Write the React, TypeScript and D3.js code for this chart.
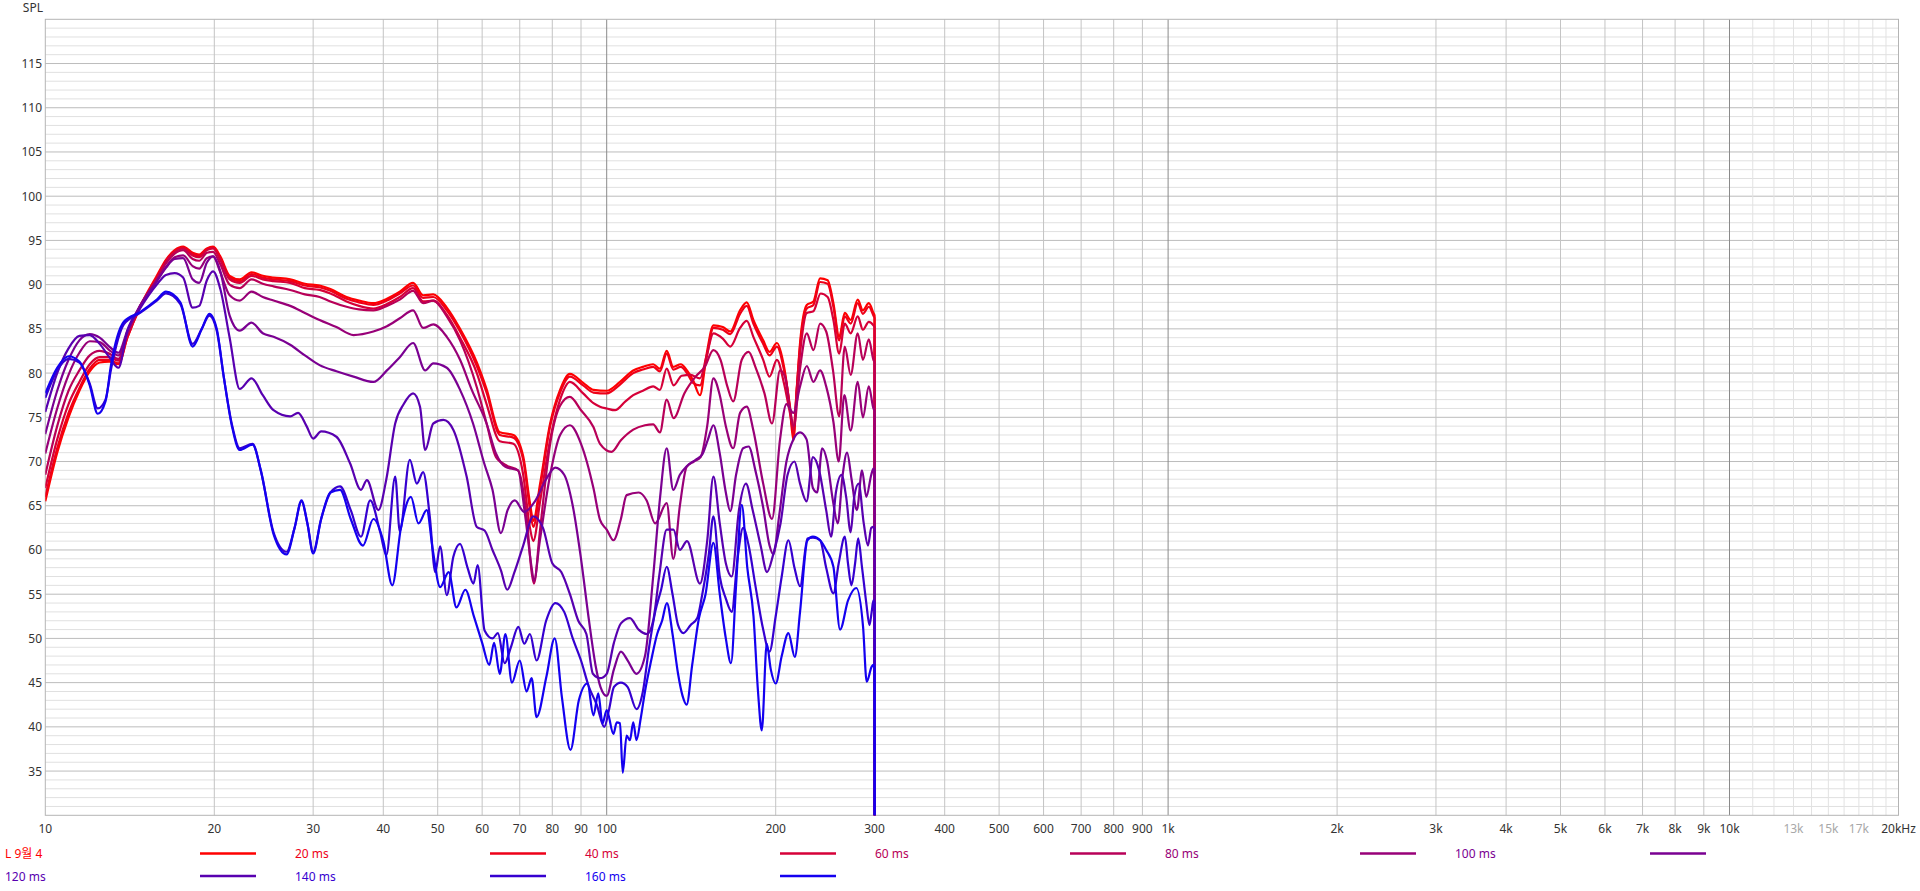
import * as d3 from "d3";

const W = 1920;
const H = 891;
const PL = 45.3;
const PR = 1898.5;
const PT = 19.3;
const PB = 815.3;

// legend names + colours, red (full response) to blue (160 ms slice)
const seriesNames = ["L 9월 4", "20 ms", "40 ms", "60 ms", "80 ms", "100 ms", "120 ms", "140 ms", "160 ms"];
const seriesColors = ["#ff0000", "#ee0018", "#d60038", "#b80058", "#980078", "#7a0092", "#5800b0", "#3600d0", "#1400f0"];

// [Hz, dB SPL]
const lMain = [[10,65.5],[10.5,71],[11,75],[11.5,78],[12,80.2],[12.5,81.2],[13,81.3],[13.5,81],[14,84],[14.75,87.5],[15.8,91],[16.4,92.8],[17,93.9],[17.6,94.3],[18.3,93.6],[18.8,93.4],[19.4,94.1],[19.9,94.3],[20.5,93.2],[21.3,91],[22.2,90.6],[23.3,91.4],[24.4,91],[25.5,90.8],[27.3,90.6],[29,90.1],[30.8,89.9],[32.2,89.5],[34.4,88.6],[36.2,88.2],[38.4,87.9],[40.6,88.4],[42.8,89.2],[45.2,90.2],[47.1,88.8],[49.1,88.9],[51.9,87.4],[54.8,85],[58.7,81.2],[61.1,78.2],[64.5,73.3],[68.2,73],[71,70.6],[73,65.3],[74,63.3],[76.1,67.5],[79.3,74.3],[82.6,78.1],[86,79.9],[90.8,78.9],[94.7,78.1],[100,78],[105.6,79],[111.5,80.3],[116,80.7],[121,81],[124.4,80.5],[127.9,82.5],[131.4,80.7],[135.5,81],[139,80.3],[142.5,79.2],[146.6,77.5],[150.7,82.2],[154.9,85.4],[161,85.2],[166,84.7],[172.8,87.1],[177.6,88],[182.5,86],[190,83.7],[195,82.4],[201,83.4],[207,80.7],[212,76],[215.1,72.4],[218,78],[221,83.4],[227.2,87.7],[233.5,88.1],[239.9,90.7],[247.5,90.5],[253.4,87.9],[259.5,84.1],[265.5,86.8],[272,86],[280,88.3],[286,87.1],[293,87.9],[298.6,86.8],[300,86.5],[300.2,0]];
const ms20 = [[10,66],[10.5,71.5],[11,75.5],[11.5,78.3],[12,80.5],[12.5,81.5],[13,81.5],[13.5,81.1],[14,84],[14.75,87.4],[15.8,90.8],[16.4,92.7],[17,93.8],[17.6,94.2],[18.3,93.5],[18.8,93.3],[19.4,94],[19.9,94.2],[20.5,93],[21.3,90.8],[22.2,90.4],[23.3,91.2],[24.4,90.8],[25.5,90.6],[27.3,90.4],[29,89.9],[30.8,89.7],[32.2,89.3],[34.4,88.4],[36.2,88],[38.4,87.7],[40.6,88.2],[42.8,89],[45.2,89.9],[47.1,88.5],[49.1,88.6],[51.9,87.1],[54.8,84.7],[58.7,80.8],[61.1,77.8],[64.5,73],[68.2,72.7],[71,70.2],[73,64.6],[74,62.6],[76.1,67],[79.3,74],[82.6,77.8],[86,79.6],[90.8,78.6],[94.7,77.8],[100,77.7],[105.6,78.7],[111.5,80],[116,80.4],[121,80.7],[124.4,80.2],[127.9,82.2],[131.4,80.4],[135.5,80.7],[139,80],[142.5,78.9],[146.6,78.6],[150.7,81.8],[154.9,85.1],[161,84.9],[166,84.4],[172.8,86.7],[177.6,87.6],[182.5,85.6],[190,83.3],[195,82],[201,83],[207,80.3],[212,76.3],[215.1,73],[218,78.2],[221,83],[227.2,87.3],[233.5,87.7],[239.9,90.3],[247.5,90.1],[253.4,87.5],[259.5,83.7],[265.5,86.4],[272,85.6],[280,87.9],[286,86.7],[293,87.5],[298.6,86.5],[300,86.2],[300.2,0]];
const ms40 = [[10,67],[10.5,72.5],[11,76.5],[11.5,79],[12,81],[12.5,81.8],[13,81.8],[13.5,81.4],[14,84.2],[14.75,87.5],[15.8,90.7],[16.4,92.6],[17,93.7],[17.6,94.1],[18.3,93.3],[18.8,93.1],[19.4,93.9],[19.9,94.1],[20.5,92.8],[21.3,90.6],[22.2,90.2],[23.3,91],[24.4,90.6],[25.5,90.4],[27.3,90.2],[29,89.6],[30.8,89.4],[32.2,89],[34.4,88.1],[36.2,87.6],[38.4,87.3],[40.6,87.8],[42.8,88.6],[45.2,89.6],[47.1,88.1],[49.1,88.2],[51.9,86.6],[54.8,84],[58.7,80],[61.1,76.5],[64.5,72.3],[68.2,72],[71,68.5],[73,62.5],[74,61],[76.1,65.5],[79.3,72.5],[82.6,77],[86,79],[90.8,77.7],[94.7,76.6],[97.3,76.2],[100,76],[103.5,75.8],[108,76.8],[111.5,77.5],[116,78],[121,78.5],[124.4,78.1],[127.9,80.5],[131.6,78.6],[136,79.7],[141,79.8],[146.6,79.4],[150.7,82],[154.9,84.5],[161,83.9],[166,83],[172.8,85.1],[177.6,85.9],[182.5,84.1],[190,81.5],[195,79.6],[201,81.5],[207,78.8],[212,75.5],[215.1,73.6],[218,78],[221,82.2],[227.2,86.8],[233.5,87],[240.5,89],[247.5,88.6],[253.4,86],[259.5,82.2],[265.5,85.6],[272,84.5],[280,86.4],[286,84.9],[293,85.8],[298.6,85.4],[300,85.2],[300.2,0]];
const ms60 = [[10,68.5],[10.5,74],[11,78],[11.5,80.3],[12,82],[12.5,82.5],[13,82.2],[13.5,81.6],[14,84.4],[14.75,87.6],[15.8,90.6],[16.4,92.4],[17,93.5],[17.6,93.9],[18.3,92.9],[18.8,92.7],[19.4,93.6],[19.9,93.7],[20.5,92.3],[21.3,90],[22.2,89.6],[23.3,90.6],[24.4,90.1],[25.5,89.8],[27.3,89.4],[29,88.9],[30.8,88.6],[32.2,88.1],[34.4,87.5],[36.2,87.2],[38.4,87.1],[40.6,87.6],[42.8,88.3],[45.2,89.3],[47.1,87.9],[49.1,88.2],[51.9,86.4],[54.8,83.7],[58.7,78.4],[61.1,74.3],[63.5,70.5],[66.5,69.5],[69.5,69],[72,63.8],[73.5,57.5],[74.2,56.2],[76,62],[79.3,72],[82.6,76.3],[86,77.3],[90,75.8],[94.7,73.9],[97.3,72],[102,71.1],[106,72.4],[111.5,73.6],[117,74.1],[121,74.2],[124.4,73.3],[127.9,77],[131.6,74.9],[137.5,77.7],[144,79.6],[149.5,80.7],[154.9,82.6],[159.5,81.5],[164,78.5],[168,76.8],[174,81.5],[179,82.4],[184,80.7],[191,77.7],[197,74.3],[203.6,80.3],[208,79.5],[212,76],[215.5,74],[221,80.5],[227.2,84.5],[233.5,82.6],[239.9,85.6],[246,84.7],[253,80.3],[259.5,75.1],[265.5,83],[272,79.8],[280,84.5],[286,81.5],[293,83.8],[298.6,81.5],[300,81.2],[300.2,0]];
const ms80 = [[10,70.9],[10.5,76],[11,79.8],[11.5,82.3],[12,83.6],[12.5,83.5],[13,82.6],[13.5,82],[14,84.6],[14.75,87.6],[15.8,90.4],[16.4,92],[17,93.1],[17.6,93.3],[18.3,92.1],[18.8,91.8],[19.4,93],[19.9,93.2],[20.5,91.4],[21.3,88.8],[22.2,88.2],[23.3,89.2],[24.4,88.6],[25.5,88.2],[27.3,87.6],[29,86.8],[30.8,86],[33,85.2],[35.4,84.3],[38.4,84.7],[40.6,85.3],[42.8,86.2],[45.2,87.1],[47.1,85.1],[49.1,85.5],[51.9,84.1],[54.8,81.5],[57.5,78.1],[61.1,74.3],[63.5,70.9],[66,69.4],[69.5,69],[71.5,64.1],[73.5,58],[74.2,56.5],[76,61],[79.3,68.5],[82.6,73],[86,74.1],[90,72],[94.7,67],[97.3,63.4],[100,62.3],[102.8,61.1],[106,63.5],[108.5,66.2],[114,66.5],[117.8,65.6],[122,63],[127.9,65.3],[131.4,59],[135,65],[138.8,69.4],[143,70],[147,70.5],[151,74],[154.9,79.4],[159,77.5],[163,74],[168,71.5],[172.8,75.5],[177.6,76.2],[182.5,73.5],[190,67.5],[197,63.5],[203.6,72.5],[209,76.5],[215,75.5],[221,78.5],[227.2,80.8],[233.5,79],[239.9,80.3],[246,78.5],[253.4,74.5],[259,70],[265,77.5],[272,73.5],[280,79],[286,75],[293,78.5],[298.6,76],[300,75.7],[300.2,0]];
const ms100 = [[10,73.1],[10.5,78],[11,81.5],[11.5,83.7],[12,84.4],[12.5,84],[13,83],[13.5,82.3],[14,84.8],[14.75,87.6],[15.8,90.4],[16.4,91.9],[17,92.9],[17.6,93],[18.3,90.6],[18.8,90.2],[19.4,92.5],[19.9,93.2],[20.5,91.5],[21.3,86.5],[22.2,84.8],[23.3,85.7],[24.4,84.5],[25.5,84.1],[27.3,83.2],[29,82],[30.8,80.9],[33,80.2],[35.4,79.6],[38.4,79],[40.6,80.3],[42.8,81.8],[45.2,83.4],[47.5,80.3],[49.1,81.1],[51.9,80.6],[54.8,78.1],[57.8,74.3],[60.5,69.8],[62.6,66.8],[64.8,61.9],[66.6,64.5],[68.6,65.6],[71.3,64.3],[74.5,65.5],[78,68],[81,69.3],[84,68.5],[87,65],[90,59],[93,52],[95.5,47],[97.5,44.5],[100,43.5],[103,46.5],[106,48.5],[109,47.5],[113,46],[117,48],[121,57],[124.5,66],[127.9,71.5],[131.4,66.8],[135,68.5],[139,69.5],[144,70.2],[148,70.8],[151.5,72.5],[154.9,74.1],[159,70.9],[163,66.5],[166,64.4],[170,68.5],[175,71.5],[179,71.7],[184,69],[190,64.8],[195,60.5],[198,59.5],[203,64],[209,70],[215,72.5],[221,73.3],[227,72.5],[233,67],[237,66.5],[242,71.5],[247,70],[253,65.5],[258,63],[263,68.3],[268,71],[273,68],[279,64.5],[285,69],[290,66],[296,68.5],[298.6,69.2],[300,69],[300.2,0]];
const ms120 = [[10,75.6],[10.5,80],[11,82.8],[11.5,84.2],[12,84.3],[12.5,83.3],[13,81.8],[13.5,80.6],[14,84.8],[14.75,87.3],[15.8,90],[16.4,91.1],[17,91.3],[17.6,90.8],[18.3,87.4],[18.8,87.6],[19.4,90.5],[19.9,91.5],[20.5,89.5],[21.3,84],[22.2,78.2],[23.3,79.4],[24.4,77.5],[25.5,75.8],[27.3,75.1],[28.2,75.5],[29.2,74],[30,72.6],[31,73.4],[33,72.8],[34.9,69.8],[36.5,66.8],[37.4,67.9],[39.2,64.5],[40.5,68],[42,74.3],[43.5,76.5],[45.2,77.7],[46.5,76.2],[47.5,71.3],[49.1,74.3],[51.2,74.7],[53.3,73.6],[56.3,68.3],[58.7,62.6],[60.6,62.2],[62.6,60],[64.8,57.7],[66.5,55.5],[68.5,57.5],[71,60.5],[74,63.8],[77,62.5],[80,58.5],[83,57.5],[86,55],[89,52],[92,50.5],[94.5,46],[97.3,45.5],[100,46],[103,49.5],[106,51.7],[110,52.3],[114,51],[118,50.5],[121,52],[124,57],[127.9,62.3],[131.5,62.3],[135,60],[139,61],[146.6,56.2],[151,61],[154.9,68.3],[159,63],[163,58.5],[167,57],[172,64.5],[177,67.5],[182,64.5],[188,60.5],[193,57.5],[198,59.5],[204,63],[210,68.5],[216,70],[221,67.5],[227,65.5],[233,70.5],[239,69],[246,64.5],[251,61.5],[256,66.5],[262,68.5],[267,66],[272,62],[276,66],[281,67.5],[287,63],[292,60.5],[296,62.5],[298.6,62.6],[300,62.4],[300.2,0]];
const ms140 = [[10,77.2],[10.5,80.3],[11,81.6],[11.5,81.2],[12,78.8],[12.4,76],[12.8,77],[13.1,80.5],[13.8,85.5],[14.75,86.8],[15.8,88.2],[16.4,89],[17.4,87.8],[18.3,83.3],[19,85],[19.6,86.5],[20.2,84.8],[20.8,79.5],[21.5,74.2],[22.2,71.5],[23.4,72],[24.2,69],[25.5,62],[26.9,59.8],[27.8,62.5],[28.6,65.5],[29.3,63],[30,59.8],[31,63.5],[32.2,66.5],[33.5,67.2],[35,64.5],[36.5,61.5],[37.9,65.6],[39.5,62],[40.5,59.4],[42,68.3],[42.8,62.1],[44.6,70.2],[45.9,67.5],[47.1,68.8],[48.4,63.8],[49.5,57.5],[50.5,60.4],[51.9,54.9],[53.3,59.2],[54.8,60.7],[56.5,58],[57.9,56.2],[58.9,58.3],[60.6,50.9],[62.6,50],[64,50.6],[65.8,47.2],[67.5,49],[69.6,51.3],[71.3,49.4],[73,50.5],[75,47.5],[78,52],[81,54],[84,53],[87,50],[90,47.5],[93,44.5],[96,42.5],[99,40],[101,42],[103,44.5],[106,45],[109,44.5],[113,42],[116,44],[119,49],[122,53],[125,55.5],[127.9,58.1],[131,55],[134,51.5],[137,50.6],[141,51.5],[145,52.3],[148,55],[152,59.5],[154.9,63.8],[159,57],[163,54.5],[167,53],[171,59],[175,62.5],[179,60.5],[184,56],[190,51],[195,48.5],[200,52.5],[205,57],[210.7,61.1],[216,58],[221,55.9],[227.8,61.3],[233,61.4],[239.9,61.1],[246,58],[253.4,55.1],[259,58.5],[265.6,61.5],[269,58.5],[272.9,56],[277,58.5],[280.5,61.3],[285,58],[290,54],[293.8,51.5],[296.5,53],[298.6,54.3],[300,54],[300.2,0]];
const ms160 = [[10,77.7],[10.5,80.6],[11,81.9],[11.5,81.3],[12,78.6],[12.4,75.4],[12.8,76.8],[13.1,81],[13.8,85.8],[14.75,86.9],[15.8,88.3],[16.4,89.2],[17.4,88],[18.3,83],[19,85],[19.6,86.7],[20.2,85],[20.8,79.5],[21.5,74],[22.2,71.3],[23.4,71.9],[24.2,69],[25.5,61.8],[26.9,59.5],[27.8,62.5],[28.6,65.6],[29.3,63],[30,59.6],[31,63.5],[32.2,66.5],[33.5,66.8],[35,63.5],[36.8,60.5],[38.4,63.5],[40,61],[41.5,56],[43,62.5],[44.8,66],[46.2,63],[47.8,64.5],[49,60],[50.5,55.8],[52.3,57.5],[54,53.5],[56,55.5],[58,52.5],[60,49.5],[61.8,47],[63,49.5],[64.5,46],[66,50.5],[67.8,45],[70,47.5],[72,44],[73.5,45.5],[75,41.1],[78.1,45.7],[80.8,50],[83.2,43.4],[86.2,37.4],[89.2,43],[92.4,44.9],[94.7,41.3],[96.6,43.8],[98.3,40.4],[100,41.9],[102.8,39.2],[104.2,40.5],[105.6,40.4],[106.8,34.8],[108.5,39],[110,38.5],[111.5,40.5],[113,38.5],[115,41],[117,44],[120,47.5],[123,50.5],[125.5,52],[128,54],[131,50.5],[134,46],[136.5,43.5],[138.8,42.5],[142,47],[146,52.3],[150,55],[154.9,60.8],[159,55],[163,50],[166.5,47.2],[170,56],[174,65.1],[178,58],[182.6,52.5],[186,44],[188.9,39.6],[192.8,49.4],[196,46.5],[200,44.9],[205,48],[210.7,50.6],[216.3,47.9],[221,53],[227.8,61.1],[233,61.5],[239.9,61.1],[246,60],[253.4,58.1],[260.4,51],[269.1,54.3],[278.3,55.7],[286.2,51.3],[290.5,45.1],[296.5,46.8],[298.6,47],[300,46.6],[300.2,0]];

const allSeries = [lMain, ms20, ms40, ms60, ms80, ms100, ms120, ms140, ms160];

const yLabelTicks = [35, 40, 45, 50, 55, 60, 65, 70, 75, 80, 85, 90, 95, 100, 105, 110, 115];
const xLabelTicks = [10, 20, 30, 40, 50, 60, 70, 80, 90, 100, 200, 300, 400, 500, 600, 700, 800, 900, 1000, 2000, 3000, 4000, 5000, 6000, 7000, 8000, 9000, 10000, 13000, 15000, 17000, 20000];
const fadedLabels = [13000, 15000, 17000];

function fmtHz(f: number) {
  if (f === 20000) return "20kHz";
  return f >= 1000 ? `${f / 1000}k` : `${f}`;
}

export default function App() {
  const x = d3.scaleLog().domain([10, 20000]).range([PL, PR]);
  const y = d3.scaleLinear().domain([30, 120]).range([PB, PT]);
  const line = d3
    .line<number[]>()
    .x((d) => x(d[0]))
    .y((d) => y(d[1]))
    .curve(d3.curveMonotoneX);

  // vertical grid: 1..9 per decade, 11k..19k lighter
  const vLines: { f: number; c: string }[] = [];
  [10, 100, 1000, 10000].forEach((dec) => {
    for (let m = 1; m <= 9; m++) {
      const f = dec * m;
      if (f <= 10 || f >= 20000) continue;
      let c = "#c4c4c4";
      if (m === 1) c = "#8a8a8a";
      if (dec === 10000 && m > 1) c = "#e2e2e2";
      vLines.push({ f, c });
    }
  });
  for (let k = 11; k <= 19; k++) vLines.push({ f: k * 1000, c: "#e2e2e2" });

  const hLines = d3.range(31, 120);

  return (
    <svg
      width={W}
      height={H}
      style={{ position: "fixed", left: 0, top: 0, background: "#ffffff" }}
      fontFamily='"Noto Sans", "Noto Sans CJK KR", sans-serif'
      fontSize={12}
    >
      <defs>
        <clipPath id="plotClip">
          <rect x={PL} y={PT} width={PR - PL} height={PB - PT} />
        </clipPath>
      </defs>
      <rect x={0} y={0} width={W} height={H} fill="#ffffff" />

      {hLines.map((v) => (
        <line
          key={`h${v}`}
          x1={PL}
          x2={PR}
          y1={y(v)}
          y2={y(v)}
          stroke={v % 5 === 0 ? "#bcbcbc" : "#e0e0e0"}
          strokeWidth={1}
        />
      ))}
      {vLines.map((g) => (
        <line key={`v${g.f}`} x1={x(g.f)} x2={x(g.f)} y1={PT} y2={PB} stroke={g.c} strokeWidth={1} />
      ))}
      <rect x={PL} y={PT} width={PR - PL} height={PB - PT} fill="none" stroke="#b4b4b4" strokeWidth={1} />

      <g clipPath="url(#plotClip)" fill="none" strokeWidth={2.2} strokeLinejoin="round">
        {allSeries.map((s, i) => (
          <path key={seriesNames[i]} d={line(s) ?? ""} stroke={seriesColors[i]} />
        ))}
      </g>

      <text x={43} y={12} textAnchor="end" fill="#333">
        SPL
      </text>
      {yLabelTicks.map((v) => (
        <text key={`yl${v}`} x={42} y={y(v) + 4.5} textAnchor="end" fill="#333">
          {v}
        </text>
      ))}
      {xLabelTicks.map((f) => (
        <text
          key={`xl${f}`}
          x={x(f)}
          y={833}
          textAnchor="middle"
          fill={fadedLabels.includes(f) ? "#a8a8a8" : "#333"}
        >
          {fmtHz(f)}
        </text>
      ))}

      {seriesNames.map((name, i) => {
        const row = Math.floor(i / 6);
        const x0 = (i % 6) * 290;
        const cy = 853.5 + row * 22.5;
        return (
          <g key={`lg${name}`}>
            <text x={x0 + 5} y={cy + 4.5} fill={seriesColors[i]}>
              {name}
            </text>
            <line x1={x0 + 200} x2={x0 + 256} y1={cy} y2={cy} stroke={seriesColors[i]} strokeWidth={2.5} />
          </g>
        );
      })}
    </svg>
  );
}
